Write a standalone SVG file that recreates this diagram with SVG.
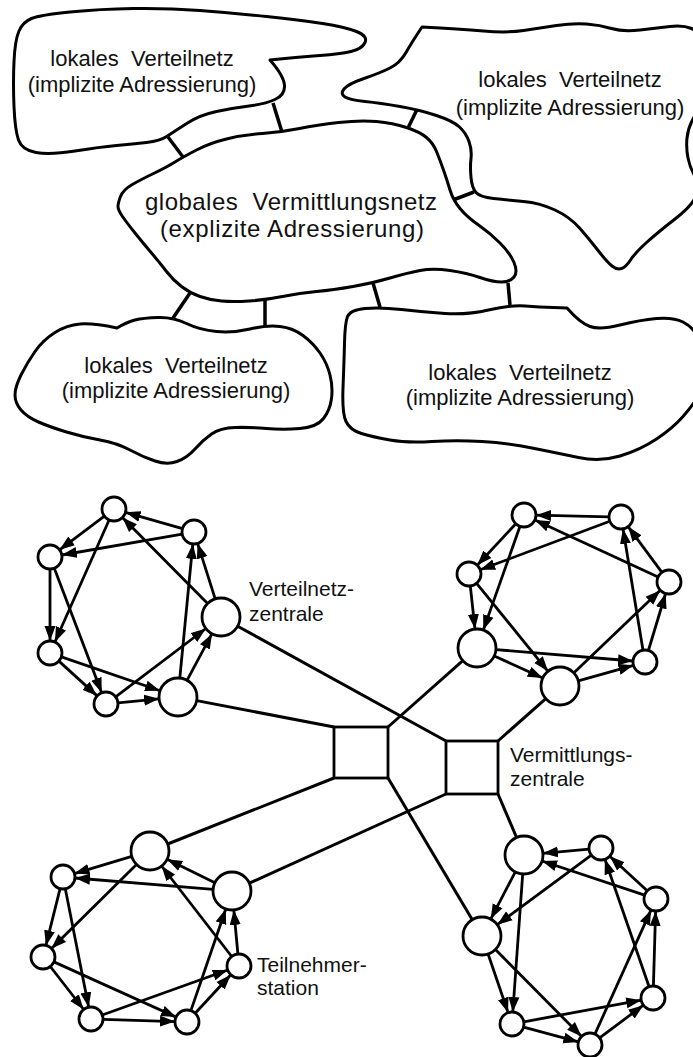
<svg xmlns="http://www.w3.org/2000/svg" width="693" height="1057" viewBox="0 0 693 1057">
<style>
.cloud{fill:#fff;stroke:#000;stroke-width:3;stroke-linejoin:round}
.link{stroke:#000;stroke-width:3.5;fill:none}
.edge{stroke:#000;stroke-width:2.8;fill:none;marker-end:url(#ah)}
.wire{stroke:#000;stroke-width:3;fill:none}
.node{fill:#fff;stroke:#000;stroke-width:2.8}
.ct{font-family:"Liberation Sans",Arial,sans-serif;font-size:22px;text-anchor:middle;fill:#111}
.gt{font-family:"Liberation Sans",Arial,sans-serif;font-size:24px;text-anchor:middle;fill:#111}
.lb{font-family:"Liberation Sans",Arial,sans-serif;font-size:21px;fill:#111}
</style>
<defs>
<marker id="ah" markerUnits="userSpaceOnUse" markerWidth="16" markerHeight="12" refX="15" refY="6" orient="auto" viewBox="0 0 16 12"><path d="M0,0.5 L15,6 L0,11.5 Z" fill="#000"/></marker>
</defs>

<g id="cloud-links">
<line class="link" x1="168" y1="137" x2="183" y2="157"/>
<line class="link" x1="273" y1="103" x2="282" y2="132"/>
<line class="link" x1="417" y1="109.5" x2="408" y2="128"/>
<line class="link" x1="453" y1="200" x2="474" y2="192"/>
<line class="link" x1="190" y1="293" x2="173" y2="318"/>
<line class="link" x1="265" y1="300" x2="265" y2="326"/>
<line class="link" x1="373" y1="283" x2="380" y2="307"/>
<line class="link" x1="508" y1="283" x2="510" y2="305"/>
</g>

<g id="cloud-local-1">
<path class="cloud" d="M31.5,18.5 Q40,15 70,12 Q100,9 133.5,8.5 Q167,8 200,10.5 Q233,13 266.5,16.5 Q300,20 322.5,23.5 Q345,27 356.5,31.5 Q368,36 365,42.5 Q362,49 351,51.5 Q340,54 320,55.5 Q300,57 285,58.5 L270,60 Q284,76 284.5,85.5 Q285,95 275,99.5 Q265,104 249,106 Q233,108 216.5,111.5 Q200,115 187.5,123 Q175,131 167.5,136 Q160,141 146.5,142.5 Q133,144 116.5,145.5 Q100,147 75,151 Q50,155 36,152.5 Q22,150 18.5,140 Q15,130 14,106.5 Q13,83 14,61.5 Q15,40 19,31 Q23,22 31.5,18.5 Z"/>
<text class="ct" x="142" y="66" xml:space="preserve">lokales  Verteilnetz</text>
<text class="ct" x="142" y="92">(implizite Adressierung)</text>
</g>

<g id="cloud-local-2">
<path class="cloud" d="M422,27 Q460,29 483.5,31 Q507,33 523.5,30.5 Q540,28 556.5,25.5 Q573,23 586.5,24 Q600,25 611.5,28.5 Q623,32 640,30 Q657,28 670,26.5 Q683,25 691.5,28.5 Q700,32 703,53.5 Q706,75 702,92.5 Q698,110 693,119 Q688,128 687,138 Q686,148 688,158 Q690,168 695,176.5 Q700,185 696.5,195 Q693,205 675,219 Q657,233 646,243 Q635,253 630.5,260 Q626,267 621.5,268.5 Q617,270 612,266 Q607,262 598.5,251 Q590,240 580,228.5 Q570,217 555,210 Q540,203 523.5,201.5 Q507,200 493.5,198.5 Q480,197 476,192.5 Q472,188 471,177.5 Q470,167 471,158.5 Q472,150 469,141.5 Q466,133 459.5,127 Q453,121 436.5,115.5 Q420,110 400,106.5 Q380,103 365,101.5 Q350,100 345,97 Q340,94 344,89 Q348,84 364,78.5 Q380,73 390,68 Q400,63 406,52.5 Q412,42 422,27 Z"/>
<text class="ct" x="570" y="87" xml:space="preserve">lokales  Verteilnetz</text>
<text class="ct" x="570" y="115">(implizite Adressierung)</text>
</g>

<g id="cloud-global">
<path class="cloud" d="M118,206.5 Q118,203 120.5,196.5 Q123,190 131.5,185 Q140,180 153.5,173.5 Q167,167 175,162 Q183,157 196.5,150 Q210,143 226.5,139 Q243,135 262.5,133.5 Q282,132 299.5,128.5 Q317,125 338.5,122.5 Q360,120 376.5,121.5 Q393,123 406.5,127.5 Q420,132 426.5,137.5 Q433,143 436.5,151.5 Q440,160 443.5,170 Q447,180 450,190 Q453,200 460,208.5 Q467,217 478.5,225 Q490,233 500,243 Q510,253 514,262.5 Q518,272 514,277 Q510,282 501.5,282 Q493,282 480,277.5 Q467,273 450,270.5 Q433,268 420,270.5 Q407,273 390,278 Q373,283 353,286.5 Q333,290 316.5,291.5 Q300,293 282.5,296.5 Q265,300 249,301 Q233,302 221.5,301 Q210,300 200,296.5 Q190,293 181.5,286.5 Q173,280 166.5,271.5 Q160,263 151.5,253 Q143,243 135,233 Q127,223 122.5,216.5 Q118,210 118,206.5 Z"/>
<text class="gt" x="291" y="210" xml:space="preserve" textLength="292" lengthAdjust="spacing">globales  Vermittlungsnetz</text>
<text class="gt" x="292" y="237" textLength="264" lengthAdjust="spacing">(explizite Adressierung)</text>
</g>

<g id="cloud-local-3">
<path class="cloud" d="M117,328 Q127,322 135,320 Q143,318 158,317.5 Q173,317 186.5,323.5 Q200,330 216.5,331.5 Q233,333 250,329 Q267,325 280,326.5 Q293,328 303,335.5 Q313,343 320,353 Q327,363 330,375 Q333,387 331.5,398.5 Q330,410 323.5,418.5 Q317,427 300,428.5 Q283,430 266.5,428.5 Q250,427 235,427.5 Q220,428 211.5,434 Q203,440 195,449 Q187,458 177,461.5 Q167,465 155,461 Q143,457 130,450 Q117,443 100,440 Q83,437 66.5,432 Q50,427 38.5,422 Q27,417 21,410 Q15,403 15,395 Q15,387 21,375 Q27,363 35,351.5 Q43,340 55,332.5 Q67,325 80,324 Q93,323 117,328 Z"/>
<text class="ct" x="176" y="373" xml:space="preserve">lokales  Verteilnetz</text>
<text class="ct" x="176" y="398">(implizite Adressierung)</text>
</g>

<g id="cloud-local-4">
<path class="cloud" d="M347.5,316.5 Q350,310 365,308.5 Q380,307 401.5,309.5 Q423,312 445,313.5 Q467,315 488.5,310 Q510,305 525,306 Q540,307 553.5,307.5 L567,308 Q580,323 590,326.5 Q600,330 620,325 Q640,320 656.5,318.5 Q673,317 683,322 Q693,327 699,338.5 Q705,350 705,367.5 Q705,385 699,395 Q693,405 683,416.5 Q673,428 656.5,439 Q640,450 620,456 Q600,462 578.5,457.5 Q557,453 532,448 Q507,443 482,441.5 Q457,440 432,441.5 Q407,443 390,440 Q373,437 361.5,433.5 Q350,430 346,421.5 Q342,413 343,388 Q344,363 344.5,343 Q345,323 347.5,316.5 Z"/>
<text class="ct" x="520" y="380" xml:space="preserve">lokales  Verteilnetz</text>
<text class="ct" x="520" y="405">(implizite Adressierung)</text>
</g>

<g id="connectors">
<!-- central trunk lines -->
<line class="wire" x1="237.6" y1="626.2" x2="446" y2="741"/>
<line class="wire" x1="196.7" y1="700.6" x2="334" y2="727"/>
<line class="wire" x1="462.8" y1="660.6" x2="388" y2="727"/>
<line class="wire" x1="545.8" y1="698.6" x2="498" y2="741"/>
<line class="wire" x1="334" y1="778" x2="167.7" y2="844"/>
<line class="wire" x1="446" y1="794" x2="249.3" y2="883.2"/>
<line class="wire" x1="388" y1="778" x2="472.3" y2="919.7"/>
<line class="wire" x1="498" y1="794" x2="516.6" y2="837.5"/>
<!-- ring top-left -->
<line class="edge" x1="104.4" y1="516.2" x2="59.6" y2="549.8"/>
<line class="edge" x1="50" y1="569" x2="50" y2="641"/>
<line class="edge" x1="58.9" y1="661.1" x2="97.1" y2="695.9"/>
<line class="edge" x1="118" y1="702.8" x2="159.1" y2="698.8"/>
<line class="edge" x1="187" y1="680.3" x2="212" y2="633.7"/>
<line class="edge" x1="215.2" y1="598.9" x2="197.6" y2="543.4"/>
<line class="edge" x1="182.5" y1="528.7" x2="125.5" y2="512.3"/>
<line class="edge" x1="109.1" y1="520" x2="54.9" y2="642"/>
<line class="edge" x1="54.3" y1="568.2" x2="101.7" y2="692.8"/>
<line class="edge" x1="61.4" y1="656.9" x2="160" y2="690.8"/>
<line class="edge" x1="115.6" y1="696.8" x2="205.9" y2="628.5"/>
<line class="edge" x1="179.8" y1="678.1" x2="192.8" y2="543.9"/>
<line class="edge" x1="207.6" y1="603.5" x2="122.4" y2="517.5"/>
<line class="edge" x1="182.2" y1="534.1" x2="61.8" y2="555"/>
<!-- ring top-right -->
<line class="edge" x1="515.8" y1="523.8" x2="477.2" y2="565.2"/>
<line class="edge" x1="470.3" y1="585.9" x2="475" y2="629.1"/>
<line class="edge" x1="494.3" y1="655.9" x2="542.7" y2="678.1"/>
<line class="edge" x1="578.3" y1="680.8" x2="633.5" y2="665.3"/>
<line class="edge" x1="648.4" y1="650.5" x2="665.6" y2="593.5"/>
<line class="edge" x1="661.9" y1="572.4" x2="628.1" y2="526.6"/>
<line class="edge" x1="609" y1="516.8" x2="536" y2="515.2"/>
<line class="edge" x1="520" y1="526.3" x2="483.3" y2="630.1"/>
<line class="edge" x1="476.6" y1="583.3" x2="548" y2="671.3"/>
<line class="edge" x1="495.9" y1="649.6" x2="633" y2="661"/>
<line class="edge" x1="573.7" y1="672.9" x2="660.3" y2="590.3"/>
<line class="edge" x1="643" y1="650.2" x2="623" y2="528.8"/>
<line class="edge" x1="658.1" y1="577" x2="534.9" y2="520"/>
<line class="edge" x1="609.8" y1="521.2" x2="480.2" y2="569.8"/>
<!-- ring bottom-left -->
<line class="edge" x1="131.8" y1="856.4" x2="74.5" y2="873.6"/>
<line class="edge" x1="60.1" y1="888.6" x2="45.9" y2="945.4"/>
<line class="edge" x1="50.3" y1="966.5" x2="83.7" y2="1009.5"/>
<line class="edge" x1="103" y1="1019.4" x2="175" y2="1021.6"/>
<line class="edge" x1="195.2" y1="1013.2" x2="230.8" y2="974.8"/>
<line class="edge" x1="237.9" y1="954" x2="233.8" y2="909.9"/>
<line class="edge" x1="214.9" y1="882.7" x2="167.1" y2="859.3"/>
<line class="edge" x1="136.5" y1="864.4" x2="51.5" y2="948.6"/>
<line class="edge" x1="65.3" y1="888.8" x2="88.7" y2="1007.2"/>
<line class="edge" x1="53.9" y1="961.9" x2="176.1" y2="1017.1"/>
<line class="edge" x1="102.3" y1="1015" x2="227.7" y2="970"/>
<line class="edge" x1="190.9" y1="1010.6" x2="225.8" y2="909"/>
<line class="edge" x1="231.7" y1="956.5" x2="161.6" y2="866"/>
<line class="edge" x1="213.1" y1="889.4" x2="75" y2="878"/>
<!-- ring bottom-right -->
<line class="edge" x1="515.3" y1="871.9" x2="490.7" y2="919.1"/>
<line class="edge" x1="488.1" y1="954" x2="508.1" y2="1012.6"/>
<line class="edge" x1="523.6" y1="1027.1" x2="578.4" y2="1041.9"/>
<line class="edge" x1="599.6" y1="1037.8" x2="643.4" y2="1005.2"/>
<line class="edge" x1="653.4" y1="986" x2="655.6" y2="911"/>
<line class="edge" x1="647.2" y1="890.8" x2="609.8" y2="856.2"/>
<line class="edge" x1="589" y1="849.1" x2="542.9" y2="853.3"/>
<line class="edge" x1="522.7" y1="874" x2="512.8" y2="1012"/>
<line class="edge" x1="495.4" y1="949.5" x2="581.6" y2="1036.5"/>
<line class="edge" x1="523.8" y1="1021.8" x2="641.2" y2="1000.2"/>
<line class="edge" x1="594.9" y1="1034.1" x2="651.1" y2="909.9"/>
<line class="edge" x1="649.1" y1="986.7" x2="604.9" y2="859.3"/>
<line class="edge" x1="644.6" y1="895.2" x2="542" y2="861"/>
<line class="edge" x1="591.4" y1="855.1" x2="497.3" y2="924.7"/>
</g>

<g id="switch-1"><rect class="node" x="334" y="727" width="54" height="51"/></g>
<g id="switch-2"><rect class="node" x="446" y="741" width="52" height="53"/></g>

<g id="ring-tl">
<circle id="tl-a" class="node" cx="114" cy="509" r="12"/>
<circle id="tl-b" class="node" cx="194" cy="532" r="12"/>
<circle id="tl-c" class="node" cx="50" cy="557" r="12"/>
<circle id="tl-d" class="node" cx="221" cy="617" r="19"/>
<circle id="tl-e" class="node" cx="50" cy="653" r="12"/>
<circle id="tl-f" class="node" cx="106" cy="704" r="12"/>
<circle id="tl-g" class="node" cx="178" cy="697" r="19"/>
</g>
<g id="ring-tr">
<circle id="tr-1" class="node" cx="524" cy="515" r="12"/>
<circle id="tr-2" class="node" cx="621" cy="517" r="12"/>
<circle id="tr-3" class="node" cx="469" cy="574" r="12"/>
<circle id="tr-4" class="node" cx="669" cy="582" r="12"/>
<circle id="tr-5" class="node" cx="477" cy="648" r="19"/>
<circle id="tr-6" class="node" cx="645" cy="662" r="12"/>
<circle id="tr-7" class="node" cx="560" cy="686" r="19"/>
</g>
<g id="ring-bl">
<circle id="bl-1" class="node" cx="150" cy="851" r="19"/>
<circle id="bl-2" class="node" cx="232" cy="891" r="19"/>
<circle id="bl-3" class="node" cx="63" cy="877" r="12"/>
<circle id="bl-4" class="node" cx="43" cy="957" r="12"/>
<circle id="bl-5" class="node" cx="239" cy="966" r="12"/>
<circle id="bl-6" class="node" cx="91" cy="1019" r="12"/>
<circle id="bl-7" class="node" cx="187" cy="1022" r="12"/>
</g>
<g id="ring-br">
<circle id="br-1" class="node" cx="524" cy="855" r="19"/>
<circle id="br-2" class="node" cx="601" cy="848" r="12"/>
<circle id="br-3" class="node" cx="656" cy="899" r="12"/>
<circle id="br-4" class="node" cx="482" cy="936" r="19"/>
<circle id="br-5" class="node" cx="653" cy="998" r="12"/>
<circle id="br-6" class="node" cx="512" cy="1024" r="12"/>
<circle id="br-7" class="node" cx="590" cy="1045" r="12"/>
</g>

<g id="label-verteilnetzzentrale">
<text class="lb" x="249" y="596">Verteilnetz-</text>
<text class="lb" x="249" y="621">zentrale</text>
</g>
<g id="label-vermittlungszentrale">
<text class="lb" x="510" y="762">Vermittlungs-</text>
<text class="lb" x="510" y="786">zentrale</text>
</g>
<g id="label-teilnehmerstation">
<text class="lb" x="257" y="972">Teilnehmer-</text>
<text class="lb" x="257" y="995">station</text>
</g>
</svg>
